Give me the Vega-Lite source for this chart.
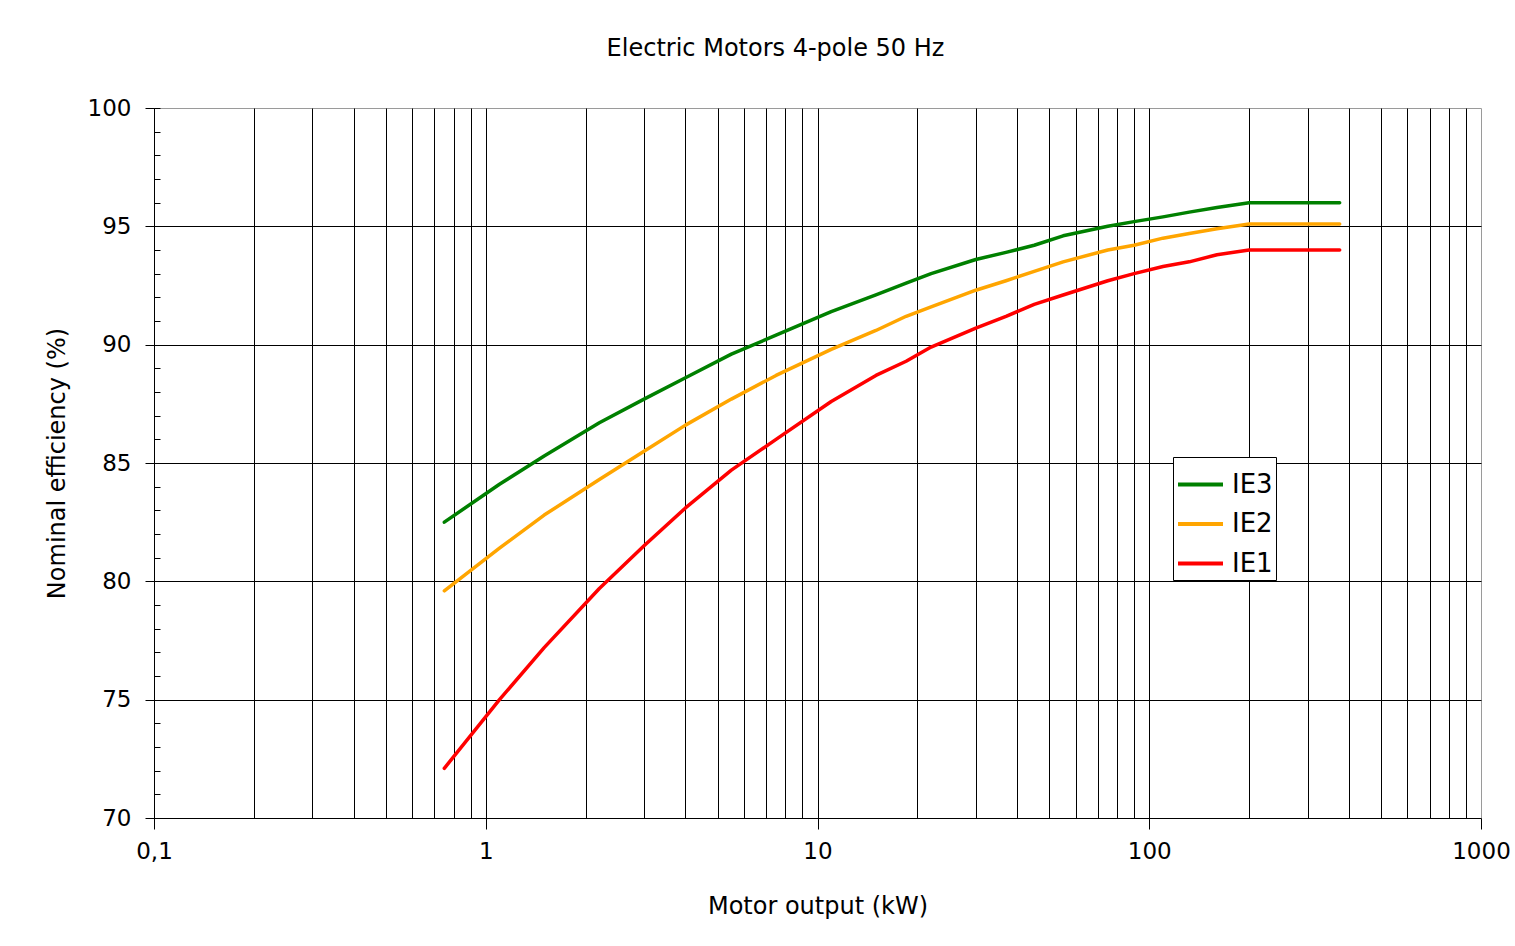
{
  "$schema": "https://vega.github.io/schema/vega-lite/v6.json",
  "autosize": {"type": "none"},
  "padding": {"left": 154, "top": 108, "right": 34, "bottom": 128},
  "width": 1327,
  "height": 710,
  "background": "white",
  "config": {
    "font": "DejaVu Sans",
    "view": {"stroke": "#9a9a9a", "strokeWidth": 1},
    "axis": {"labelColor": "black", "titleColor": "black", "titleFontWeight": "normal", "domainColor": "black", "tickColor": "black", "gridColor": "black", "gridWidth": 1, "domainWidth": 1, "tickWidth": 1}
  },
  "title": {"text": "Electric Motors 4-pole 50 Hz", "fontSize": 24, "fontWeight": "normal", "color": "black", "anchor": "middle", "frame": "group", "dx": -42, "baseline": "alphabetic", "offset": 17},
  "data": {"values": [
    {"kW": 0.75, "IE": "IE1", "eff": 72.1}, {"kW": 1.1, "IE": "IE1", "eff": 75.0}, {"kW": 1.5, "IE": "IE1", "eff": 77.2}, {"kW": 2.2, "IE": "IE1", "eff": 79.7}, {"kW": 3, "IE": "IE1", "eff": 81.5}, {"kW": 4, "IE": "IE1", "eff": 83.1}, {"kW": 5.5, "IE": "IE1", "eff": 84.7}, {"kW": 7.5, "IE": "IE1", "eff": 86.0}, {"kW": 11, "IE": "IE1", "eff": 87.6}, {"kW": 15, "IE": "IE1", "eff": 88.7}, {"kW": 18.5, "IE": "IE1", "eff": 89.3}, {"kW": 22, "IE": "IE1", "eff": 89.9}, {"kW": 30, "IE": "IE1", "eff": 90.7}, {"kW": 37, "IE": "IE1", "eff": 91.2}, {"kW": 45, "IE": "IE1", "eff": 91.7}, {"kW": 55, "IE": "IE1", "eff": 92.1}, {"kW": 75, "IE": "IE1", "eff": 92.7}, {"kW": 90, "IE": "IE1", "eff": 93.0}, {"kW": 110, "IE": "IE1", "eff": 93.3}, {"kW": 132, "IE": "IE1", "eff": 93.5}, {"kW": 160, "IE": "IE1", "eff": 93.8}, {"kW": 200, "IE": "IE1", "eff": 94.0}, {"kW": 375, "IE": "IE1", "eff": 94.0},
    {"kW": 0.75, "IE": "IE2", "eff": 79.6}, {"kW": 1.1, "IE": "IE2", "eff": 81.4}, {"kW": 1.5, "IE": "IE2", "eff": 82.8}, {"kW": 2.2, "IE": "IE2", "eff": 84.3}, {"kW": 3, "IE": "IE2", "eff": 85.5}, {"kW": 4, "IE": "IE2", "eff": 86.6}, {"kW": 5.5, "IE": "IE2", "eff": 87.7}, {"kW": 7.5, "IE": "IE2", "eff": 88.7}, {"kW": 11, "IE": "IE2", "eff": 89.8}, {"kW": 15, "IE": "IE2", "eff": 90.6}, {"kW": 18.5, "IE": "IE2", "eff": 91.2}, {"kW": 22, "IE": "IE2", "eff": 91.6}, {"kW": 30, "IE": "IE2", "eff": 92.3}, {"kW": 37, "IE": "IE2", "eff": 92.7}, {"kW": 45, "IE": "IE2", "eff": 93.1}, {"kW": 55, "IE": "IE2", "eff": 93.5}, {"kW": 75, "IE": "IE2", "eff": 94.0}, {"kW": 90, "IE": "IE2", "eff": 94.2}, {"kW": 110, "IE": "IE2", "eff": 94.5}, {"kW": 132, "IE": "IE2", "eff": 94.7}, {"kW": 160, "IE": "IE2", "eff": 94.9}, {"kW": 200, "IE": "IE2", "eff": 95.1}, {"kW": 375, "IE": "IE2", "eff": 95.1},
    {"kW": 0.75, "IE": "IE3", "eff": 82.5}, {"kW": 1.1, "IE": "IE3", "eff": 84.1}, {"kW": 1.5, "IE": "IE3", "eff": 85.3}, {"kW": 2.2, "IE": "IE3", "eff": 86.7}, {"kW": 3, "IE": "IE3", "eff": 87.7}, {"kW": 4, "IE": "IE3", "eff": 88.6}, {"kW": 5.5, "IE": "IE3", "eff": 89.6}, {"kW": 7.5, "IE": "IE3", "eff": 90.4}, {"kW": 11, "IE": "IE3", "eff": 91.4}, {"kW": 15, "IE": "IE3", "eff": 92.1}, {"kW": 18.5, "IE": "IE3", "eff": 92.6}, {"kW": 22, "IE": "IE3", "eff": 93.0}, {"kW": 30, "IE": "IE3", "eff": 93.6}, {"kW": 37, "IE": "IE3", "eff": 93.9}, {"kW": 45, "IE": "IE3", "eff": 94.2}, {"kW": 55, "IE": "IE3", "eff": 94.6}, {"kW": 75, "IE": "IE3", "eff": 95.0}, {"kW": 90, "IE": "IE3", "eff": 95.2}, {"kW": 110, "IE": "IE3", "eff": 95.4}, {"kW": 132, "IE": "IE3", "eff": 95.6}, {"kW": 160, "IE": "IE3", "eff": 95.8}, {"kW": 200, "IE": "IE3", "eff": 96.0}, {"kW": 375, "IE": "IE3", "eff": 96.0}
  ]},
  "encoding": {
    "x": {
      "field": "kW", "type": "quantitative",
      "scale": {"type": "log", "domain": [0.1, 1000], "nice": false},
      "axis": {
        "values": [0.1, 0.2, 0.3, 0.4, 0.5, 0.6, 0.7, 0.8, 0.9, 1, 2, 3, 4, 5, 6, 7, 8, 9, 10, 20, 30, 40, 50, 60, 70, 80, 90, 100, 200, 300, 400, 500, 600, 700, 800, 900, 1000],
        "grid": true,
        "gridOpacity": {"condition": {"test": "datum.value >= 1000", "value": 0}, "value": 1},
        "tickOpacity": {"condition": {"test": "indexof([0.1, 1, 10, 100, 1000], datum.value) >= 0", "value": 1}, "value": 0},
        "tickSize": 11,
        "labelExpr": "indexof([0.1, 1, 10, 100, 1000], datum.value) >= 0 ? replace(format(datum.value, '~g'), '.', ',') : ''",
        "labelOverlap": false,
        "labelFlush": false,
        "labelFontSize": 23,
        "labelPadding": 11,
        "title": "Motor output (kW)",
        "titleFontSize": 24,
        "titlePadding": 31
      }
    }
  },
  "layer": [
    {
      "mark": {"type": "line", "opacity": 0},
      "encoding": {
        "y": {
          "field": "eff", "type": "quantitative",
          "scale": {"domain": [70, 100], "nice": false, "zero": false},
          "axis": {
            "orient": "left",
            "values": [70, 71, 72, 73, 74, 75, 76, 77, 78, 79, 80, 81, 82, 83, 84, 85, 86, 87, 88, 89, 90, 91, 92, 93, 94, 95, 96, 97, 98, 99, 100],
            "grid": true,
            "gridOpacity": {"condition": {"test": "datum.value % 5 == 0 && datum.value > 70 && datum.value < 100", "value": 1}, "value": 0},
            "tickSize": -6,
            "labels": false,
            "title": null,
            "domain": true
          }
        },
        "detail": {"field": "IE"}
      }
    },
    {
      "mark": {"type": "line", "strokeWidth": 3.5, "strokeCap": "round", "strokeJoin": "round"},
      "encoding": {
        "y": {
          "field": "eff", "type": "quantitative",
          "scale": {"domain": [70, 100], "nice": false, "zero": false},
          "axis": {
            "orient": "left",
            "values": [70, 75, 80, 85, 90, 95, 100],
            "grid": false,
            "domain": false,
            "tickSize": 9,
            "labelFontSize": 23,
            "labelPadding": 14,
            "labelFlush": false,
            "title": "Nominal efficiency (%)",
            "titleFontSize": 24,
            "titlePadding": 18
          }
        },
        "color": {
          "field": "IE", "type": "nominal",
          "scale": {"domain": ["IE3", "IE2", "IE1"], "range": ["#008000", "#FFA500", "#FF0000"]},
          "legend": {
            "orient": "none", "legendX": 1019, "legendY": 349,
            "title": null,
            "symbolType": "stroke", "symbolSize": 2025, "symbolStrokeWidth": 4,
            "labelFontSize": 26, "labelColor": "black", "labelOffset": 7,
            "fillColor": "white", "strokeColor": "black", "padding": 3, "rowPadding": 1.5
          }
        }
      }
    }
  ],
  "resolve": {"axis": {"y": "independent"}}
}
